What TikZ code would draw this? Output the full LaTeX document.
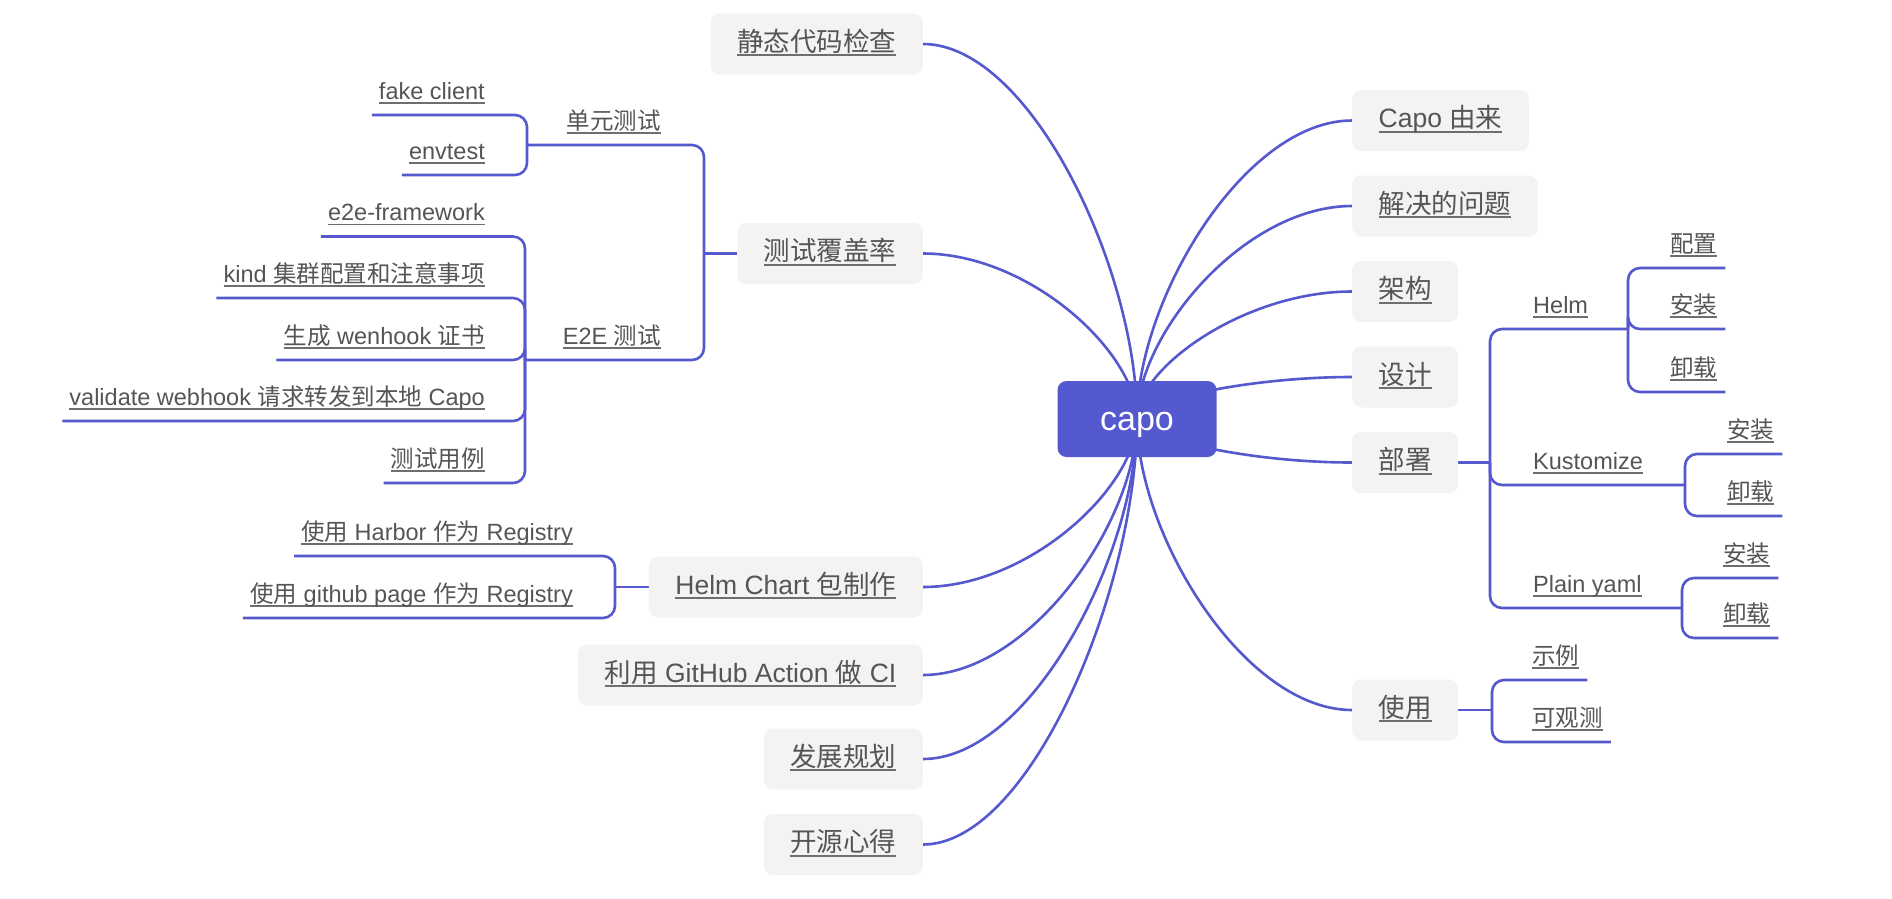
\documentclass[tikz,border=0pt]{standalone}
\usepackage{fontspec}
\setmainfont{Liberation Sans}
\newfontfamily\zhf{Noto Sans CJK SC}
\usetikzlibrary{calc}
\definecolor{lineblue}{RGB}{86,88,206}
\definecolor{rootblue}{RGB}{85,89,207}
\definecolor{boxgray}{RGB}{243,243,243}
\definecolor{txtgray}{RGB}{85,85,85}
\definecolor{ulgray}{RGB}{110,110,110}
\newcommand\zh[1]{{\zhf #1}}
\newsavebox\ulbox
\newcommand\ul[1]{\sbox\ulbox{#1}\rlap{\color{ulgray}\rule[-0.2em]{\wd\ulbox}{0.07em}}\usebox\ulbox}
\pgfdeclarelayer{bg}
\pgfsetlayers{bg,main}
\tikzset{
  cv/.style={draw=lineblue, line width=2.6pt},
  br/.style={draw=lineblue, line width=2.6pt, rounded corners=12pt},
  mainbox/.style={fill=boxgray, rounded corners=9pt, inner xsep=26.5pt, inner ysep=0pt, minimum height=61pt, text height=20pt, text depth=6pt, text=txtgray, font=\fontsize{26.5}{30}\selectfont},
  rootbox/.style={fill=rootblue, rounded corners=9pt, minimum width=159pt, minimum height=76pt, inner sep=0pt, text height=22pt, text depth=0pt, text=white, font=\fontsize{34}{38}\selectfont},
  subl/.style={anchor=base east, inner sep=0pt, text=txtgray, font=\fontsize{23.5}{28}\selectfont},
  subr/.style={anchor=base west, inner sep=0pt, text=txtgray, font=\fontsize{23.5}{28}\selectfont},
}
\newcommand\mmcurve[2]{\draw[cv] (#1) .. controls ($(#1)!0.4!(#1 |- #2)$) and ($(#2)!0.5!(#1 |- #2)$) .. (#2);}
\begin{document}
\begin{tikzpicture}[x=1pt,y=-1pt]
\begin{pgfonlayer}{bg}
\fill[white] (0,0) rectangle (1892,898);
\end{pgfonlayer}
\useasboundingbox (0,0) rectangle (1892,898);
% root
\node[rootbox] (R) at (1137,419) {capo};
% left main nodes
\node[mainbox, anchor=east] (A1) at (923,44) {\ul{\zh{静态代码检查}}};
\node[mainbox, anchor=east] (A2) at (923,253.5) {\ul{\zh{测试覆盖率}}};
\node[mainbox, anchor=east] (A3) at (923,587) {\ul{Helm Chart \zh{包制作}}};
\node[mainbox, anchor=east] (A4) at (923,675) {\ul{\zh{利用} GitHub Action \zh{做} CI}};
\node[mainbox, anchor=east] (A5) at (923,759) {\ul{\zh{发展规划}}};
\node[mainbox, anchor=east] (A6) at (923,844.5) {\ul{\zh{开源心得}}};
% right main nodes
\node[mainbox, anchor=west] (B1) at (1352,120.5) {\ul{Capo \zh{由来}}};
\node[mainbox, anchor=west] (B2) at (1352,206) {\ul{\zh{解决的问题}}};
\node[mainbox, anchor=west] (B3) at (1352,291.5) {\ul{\zh{架构}}};
\node[mainbox, anchor=west] (B4) at (1352,377) {\ul{\zh{设计}}};
\node[mainbox, anchor=west] (B5) at (1352,462.5) {\ul{\zh{部署}}};
\node[mainbox, anchor=west] (B6) at (1352,710) {\ul{\zh{使用}}};
% deploy subtree
\node[subr] (helm) at (1533,313) {\ul{Helm}};
\node[subr] (hcfg) at (1670,252) {\ul{\zh{配置}}};
\node[subr] (hins) at (1670,313) {\ul{\zh{安装}}};
\node[subr] (hdel) at (1670,376) {\ul{\zh{卸载}}};
\node[subr] (kus) at (1533,469) {\ul{Kustomize}};
\node[subr] (kins) at (1727,438) {\ul{\zh{安装}}};
\node[subr] (kdel) at (1727,500) {\ul{\zh{卸载}}};
\node[subr] (ply) at (1533,592) {\ul{Plain yaml}};
\node[subr] (pins) at (1723,562) {\ul{\zh{安装}}};
\node[subr] (pdel) at (1723,622) {\ul{\zh{卸载}}};
% usage subtree
\node[subr] (ex) at (1532,664) {\ul{\zh{示例}}};
\node[subr] (obs) at (1532,726) {\ul{\zh{可观测}}};
% test subtree
\node[subl] (ut) at (661,129) {\ul{\zh{单元测试}}};
\node[subl] (fc) at (485,99) {\ul{fake client}};
\node[subl] (et) at (485,159) {\ul{envtest}};
\node[subl] (e2) at (661,344) {\ul{E2E \zh{测试}}};
\node[subl] (ef) at (485,220.5) {\ul{e2e-framework}};
\node[subl] (kd) at (485,282) {\ul{kind \zh{集群配置和注意事项}}};
\node[subl] (gw) at (485,344) {\ul{\zh{生成} wenhook \zh{证书}}};
\node[subl] (vw) at (485,405) {\ul{validate webhook \zh{请求转发到本地} Capo}};
\node[subl] (tc) at (485,467) {\ul{\zh{测试用例}}};
% helm chart subtree
\node[subl] (hb) at (573,540) {\ul{\zh{使用} Harbor \zh{作为} Registry}};
\node[subl] (gp) at (573,602) {\ul{\zh{使用} github page \zh{作为} Registry}};
% trunk coordinates
\coordinate (t5) at (1490,462.5);
\coordinate (th) at (1628,329);
\coordinate (tk) at (1685,485);
\coordinate (tp) at (1682,608);
\coordinate (t6) at (1492,710);
\coordinate (t2) at (704,253.5);
\coordinate (tu) at (527,145);
\coordinate (te) at (525,360);
\coordinate (t3) at (615,587);
\begin{pgfonlayer}{bg}
\foreach \n in {A1,A2,A3,A4,A5,A6}{\mmcurve{R.center}{\n.east}}
\foreach \n in {B1,B2,B3,B4,B5,B6}{\mmcurve{R.center}{\n.west}}
% deploy
\draw[br] (B5.east) -- (t5);
\draw[br] (t5) |- (th);
\draw[br] (t5) |- (tk);
\draw[br] (t5) |- (tp);
\foreach \n in {hcfg,hins,hdel}{\draw[br] (th) |- ($(\n.base east)+(8,16)$);}
\foreach \n in {kins,kdel}{\draw[br] (tk) |- ($(\n.base east)+(8,16)$);}
\foreach \n in {pins,pdel}{\draw[br] (tp) |- ($(\n.base east)+(8,16)$);}
% usage
\draw[br] (B6.east) -- (t6);
\foreach \n in {ex,obs}{\draw[br] (t6) |- ($(\n.base east)+(8,16)$);}
% test coverage
\draw[br] (A2.west) -- (t2);
\draw[br] (t2) |- (tu);
\draw[br] (t2) |- (te);
\foreach \n in {fc,et}{\draw[br] (tu) |- ($(\n.base west)+(-7,16)$);}
\foreach \n in {ef,kd,gw,vw,tc}{\draw[br] (te) |- ($(\n.base west)+(-7,16)$);}
% helm chart
\draw[br] (A3.west) -- (t3);
\foreach \n in {hb,gp}{\draw[br] (t3) |- ($(\n.base west)+(-7,16)$);}
\end{pgfonlayer}
\end{tikzpicture}
\end{document}
